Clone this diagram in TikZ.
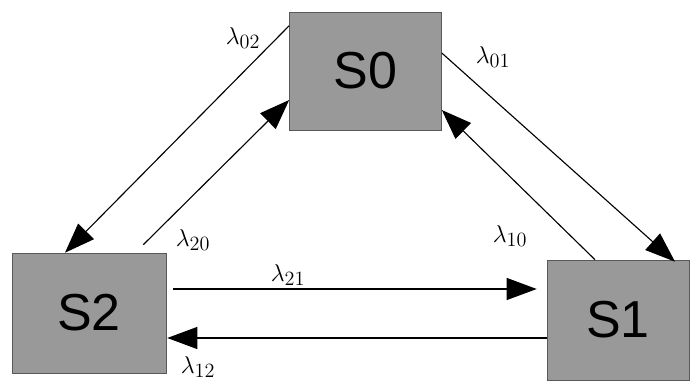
\documentclass[tikz,border=0pt]{standalone}
\usepackage{fontspec}
\setsansfont{Liberation Sans}
\usetikzlibrary{calc, arrows.meta}

\begin{document}
\begin{tikzpicture}[x=0.025cm, y=0.025cm,
	state/.style={draw=black!65, fill=black!40, inner sep=0pt, font=\sffamily\fontsize{37}{40}\selectfont},
	rate/.style={-{Triangle[length=0.75cm, width=0.55cm]}, line width=0.8pt},
	lbl/.style={font=\fontsize{19}{22}\selectfont}]

		\useasboundingbox (0,0) rectangle (690,381);

		\node[state, minimum width=3.8cm, minimum height=2.95cm] (S0) at (365.5,310) {S0};
		\node[state, minimum width=3.85cm, minimum height=3cm] (S2) at (89,68) {S2};
		\node[state, minimum width=3.55cm, minimum height=3cm] (S1) at (618,61) {S1};

		\draw[rate] ($(S0.north west)+(0,-14)$) -- ($(S2.north)+(-24,0)$);
		\draw[rate] ($(S2.north east)+(-23,8)$) -- ($(S0.west)+(0,-29)$);
		\draw[rate] ($(S0.east)+(0,18)$) -- ($(S1.north)+(57,-2)$);
		\draw[rate] ($(S1.north)+(-23,0)$) -- ($(S0.east)+(0,-39)$);
		\draw[rate] ($(S2.east)+(7,24)$) -- ($(S1.west)+(-10,31)$);
		\draw[rate] ($(S1.west)+(0,-18)$) -- ($(S2.east)+(1,-25)$);

		\node[lbl] (l02) at (243,343) {$\lambda_{02}$};
		\node[lbl] (l01) at (493,324) {$\lambda_{01}$};
		\node[lbl] (l20) at (193,141) {$\lambda_{20}$};
		\node[lbl] (l10) at (510,145) {$\lambda_{10}$};
		\node[lbl] (l21) at (288,106) {$\lambda_{21}$};
		\node[lbl] (l12) at (198,14) {$\lambda_{12}$};

	\end{tikzpicture}
\end{document}
